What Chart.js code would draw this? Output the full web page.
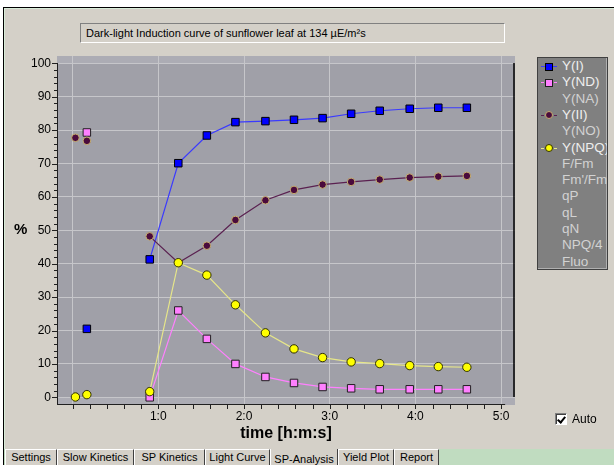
<!DOCTYPE html>
<html><head><meta charset="utf-8">
<script src="https://cdn.jsdelivr.net/npm/chart.js@4/dist/chart.umd.min.js"></script>
<style>
html,body{margin:0;padding:0;width:614px;height:465px;overflow:hidden;background:#fff;font-family:"Liberation Sans",Arial,sans-serif;}
#panel{position:absolute;left:3px;top:7px;width:611px;height:443px;background:#d4d0c8;border-left:1px solid #000;border-top:1px solid #000;box-sizing:border-box;box-shadow:inset 1px 1px 0 #d8ecd8;}
#c{position:absolute;left:0;top:0;}
#title{position:absolute;left:80px;top:23px;width:425px;height:20px;box-sizing:border-box;border-top:1px solid #808080;border-left:1px solid #808080;border-right:1px solid #fff;border-bottom:1px solid #fff;font-size:11px;line-height:18px;padding-left:5px;color:#000;white-space:nowrap;}
#ylab{position:absolute;left:14px;top:220px;font-weight:bold;font-size:15px;color:#000;}
#xlab{position:absolute;left:0;width:572px;top:424px;text-align:center;font-weight:bold;font-size:16px;color:#000;}
#legend{position:absolute;left:537px;top:57px;width:71px;height:213px;box-sizing:border-box;background:#808080;border:1px solid #404040;box-shadow:inset -1px -1px 0 #b0b0b0;overflow:hidden;}
.row{position:absolute;left:0;height:16px;width:200px;font-size:13.5px;font-weight:normal;line-height:16px;white-space:nowrap;}
.row .t{position:absolute;left:24px;top:0;font-weight:normal;}
.row .ln{position:absolute;left:3px;top:8px;width:16px;height:0;border-top:1px solid;}
.row .mk{position:absolute;box-sizing:border-box;}
#chk{position:absolute;left:555px;top:413px;width:12px;height:12px;box-sizing:border-box;background:#fff;border-top:1px solid #808080;border-left:1px solid #808080;border-right:1px solid #fff;border-bottom:1px solid #fff;box-shadow:inset 1px 1px 0 #404040;}
#chk:after{content:"";position:absolute;left:3px;top:1px;width:3px;height:6px;border-right:2px solid #000;border-bottom:2px solid #000;transform:rotate(40deg);}
#auto{position:absolute;left:572px;top:412px;font-size:12px;color:#000;}
#tabs{position:absolute;left:3px;top:449px;width:611px;height:16px;background:#c0dcc0;border-left:1px solid #000;box-sizing:border-box;}
.tab{position:absolute;top:0;height:16px;box-sizing:border-box;background:#d4d0c8;border-left:1px solid #fff;border-right:1px solid #404040;border-top:1px solid #fff;font-size:11px;line-height:15px;text-align:center;color:#000;white-space:nowrap;}
.tab.sel{border-top:none;line-height:20px;}
</style></head>
<body>
<div id="panel"></div>
<div id="title">Dark-light Induction curve of sunflower leaf at 134 µE/m²s</div>
<canvas id="c" width="614" height="465"></canvas>
<div id="ylab">%</div>
<div id="xlab">time [h:m:s]</div>
<div id="legend"></div>
<div id="chk"></div><div id="auto">Auto</div>
<div id="tabs"></div>
<script>
// ---- data (time in seconds) ----
const timesSec = [2, 10, 54, 74, 94, 114, 135, 155, 175, 195, 215, 236, 256, 276];
const yI    = [null, 20.5, 41.3, 70.1, 78.4, 82.4, 82.7, 83.1, 83.6, 84.9, 85.8, 86.4, 86.7, 86.7];
const yND   = [null, 79.3, 0.0, 26.0, 17.5, 10.0, 6.1, 4.3, 3.1, 2.7, 2.4, 2.4, 2.4, 2.4];
const yII   = [77.7, 76.8, 48.2, 40.3, 45.4, 53.1, 59.0, 62.1, 63.7, 64.5, 65.2, 65.8, 66.1, 66.3];
const yNPQ  = [0.1, 0.8, 1.7, 40.3, 36.6, 27.7, 19.3, 14.5, 11.9, 10.6, 10.1, 9.5, 9.2, 9.0];
const firstLightIndex = 2;
const xTickValues = [0, 60, 120, 180, 240, 300];
const yTickValues = [0, 10, 20, 30, 40, 50, 60, 70, 80, 90, 100];
const legendLabels = ['Y(I)', 'Y(ND)', 'Y(NA)', 'Y(II)', 'Y(NO)', 'Y(NPQ)', 'F/Fm', "Fm'/Fm", 'qP', 'qL', 'qN', 'NPQ/4', 'Fluo'];
const tabNames = ['Settings', 'Slow Kinetics', 'SP Kinetics', 'Light Curve', 'SP-Analysis', 'Yield Plot', 'Report'];

// ---- styles ----
const seriesStyle = {
  'Y(I)':  {line:'#3a3aff', fill:'#0000ff', border:'#000000', shape:'rect', r:5.3},
  'Y(ND)': {line:'#ff80ff', fill:'#ff80ff', border:'#202020', shape:'rect', r:5.3},
  'Y(II)': {line:'#5a2050', fill:'#4a0a3c', border:'#c8b070', shape:'circle', r:3.8},
  'Y(NPQ)':{line:'#e6e68a', fill:'#ffff00', border:'#303000', shape:'circle', r:4.2}
};
const seriesData = {'Y(I)': yI, 'Y(ND)': yND, 'Y(II)': yII, 'Y(NPQ)': yNPQ};
const drawOrder = {'Y(NPQ)':0, 'Y(II)':1, 'Y(I)':2, 'Y(ND)':3};

const datasets = Object.keys(seriesData).map(name => {
  const s = seriesStyle[name];
  return {
    label: name,
    data: timesSec.map((t, i) => ({x: t, y: seriesData[name][i]})),
    borderColor: s.line, borderWidth: 1.2,
    pointStyle: s.shape, pointRadius: s.r, pointBackgroundColor: s.fill,
    pointBorderColor: s.border, pointBorderWidth: 1,
    order: drawOrder[name],
    segment: {borderColor: ctx => ctx.p0DataIndex < firstLightIndex ? 'rgba(0,0,0,0)' : s.line}
  };
});

const framePlugin = {
  id: 'frame',
  beforeDraw(chart) {
    const {ctx, chartArea: a, scales: {x, y}} = chart;
    ctx.save();
    ctx.fillStyle = '#acacb4';
    ctx.fillRect(a.left, a.top, a.right - a.left, a.bottom - a.top);
    const t = y.getPixelForValue(100), b = y.getPixelForValue(0);
    ctx.fillStyle = '#a0a0a8';
    ctx.fillRect(a.left, t, a.right - a.left, b - t);
    ctx.restore();
  },
  afterDraw(chart) {
    const {ctx, chartArea: a, scales: {x, y}} = chart;
    ctx.save();
    ctx.strokeStyle = '#202020'; ctx.lineWidth = 1;
    ctx.beginPath();
    ctx.moveTo(a.left + 0.5, Math.round(y.getPixelForValue(100))); ctx.lineTo(a.left + 0.5, a.bottom);
    for (let v = 0; v <= 100; v += 2) {
      const py = Math.round(y.getPixelForValue(v)) + 0.5;
      const len = v % 10 === 0 ? 5 : 3;
      ctx.moveTo(a.left, py); ctx.lineTo(a.left - len, py);
    }
    const xEnd = x.getPixelForValue(300) + 4;
    ctx.moveTo(a.left, a.bottom - 0.5); ctx.lineTo(xEnd, a.bottom - 0.5);
    for (let v = 0; v <= 300; v += 12) {
      const px = Math.round(x.getPixelForValue(v)) + 0.5;
      ctx.moveTo(px, a.bottom); ctx.lineTo(px, a.bottom + 4);
    }
    ctx.stroke();
    ctx.strokeStyle = '#000'; ctx.lineWidth = 1.5;
    ctx.beginPath();
    ctx.moveTo(a.right - 1, Math.round(y.getPixelForValue(100)));
    ctx.lineTo(a.right - 1, Math.round(y.getPixelForValue(0)));
    ctx.stroke();
    ctx.restore();
  }
};

new Chart(document.getElementById('c'), {
  type: 'line',
  data: {datasets},
  plugins: [framePlugin],
  options: {
    responsive: false, animation: false, events: [],
    layout: {padding: {left: 0, top: 56, right: 99, bottom: 0}},
    plugins: {legend: {display: false}, tooltip: {enabled: false}},
    scales: {
      x: {
        type: 'linear', min: -10.9, max: 309.7,
        afterFit: s => { s.height = 60; },
        afterBuildTicks: s => { s.ticks = xTickValues.map(v => ({value: v})); },
        grid: {color: '#c6c6ca', lineWidth: 1, drawTicks: false},
        border: {display: false},
        ticks: {padding: 4, color: '#000', font: {family: 'Liberation Sans', size: 12},
          callback: v => v === 0 ? '' : Math.floor(v / 60) + ':' + (v % 60), maxRotation: 0, autoSkip: false}
      },
      y: {
        min: -2.3, max: 102.2,
        afterFit: s => { s.width = 57; },
        afterBuildTicks: s => { s.ticks = yTickValues.map(v => ({value: v})); },
        grid: {color: '#c6c6ca', lineWidth: 1, drawTicks: false},
        border: {display: false},
        ticks: {padding: 6, color: '#000', font: {family: 'Liberation Sans', size: 12}, autoSkip: false}
      }
    }
  }
});

// ---- legend (HTML) ----
const lg = document.getElementById('legend');
legendLabels.forEach((name, i) => {
  const row = document.createElement('div');
  row.className = 'row';
  row.style.top = (i * 16.3) + 'px';
  const s = seriesStyle[name];
  if (s) {
    const ln = document.createElement('div'); ln.className = 'ln';
    ln.style.borderTopColor = s.line;
    if (name !== 'Y(I)') ln.style.borderTopStyle = 'dashed';
    row.appendChild(ln);
    const mk = document.createElement('div'); mk.className = 'mk';
    const d = s.shape === 'rect' ? 8 : Math.round(s.r * 2);
    mk.style.width = d + 'px'; mk.style.height = d + 'px';
    mk.style.left = (11 - d / 2) + 'px'; mk.style.top = (8.5 - d / 2) + 'px';
    mk.style.background = s.fill; mk.style.border = '1px solid ' + s.border;
    if (s.shape === 'circle') mk.style.borderRadius = '50%';
    row.appendChild(mk);
  }
  const t = document.createElement('span'); t.className = 't';
  t.textContent = name;
  t.style.color = s ? '#eeeeee' : '#d2d2d2';
  row.appendChild(t);
  lg.appendChild(row);
});

// ---- tabs ----
const tabW = [52, 77, 71, 65, 68, 56, 45];
const tabsEl = document.getElementById('tabs');
let left = 1;
tabNames.forEach((n, i) => {
  const w = tabW[i];
  const d = document.createElement('div');
  d.className = 'tab' + (n === 'SP-Analysis' ? ' sel' : '');
  d.style.left = left + 'px'; d.style.width = w + 'px';
  d.textContent = n;
  tabsEl.appendChild(d);
  left += w;
});
</script>
</body></html>
